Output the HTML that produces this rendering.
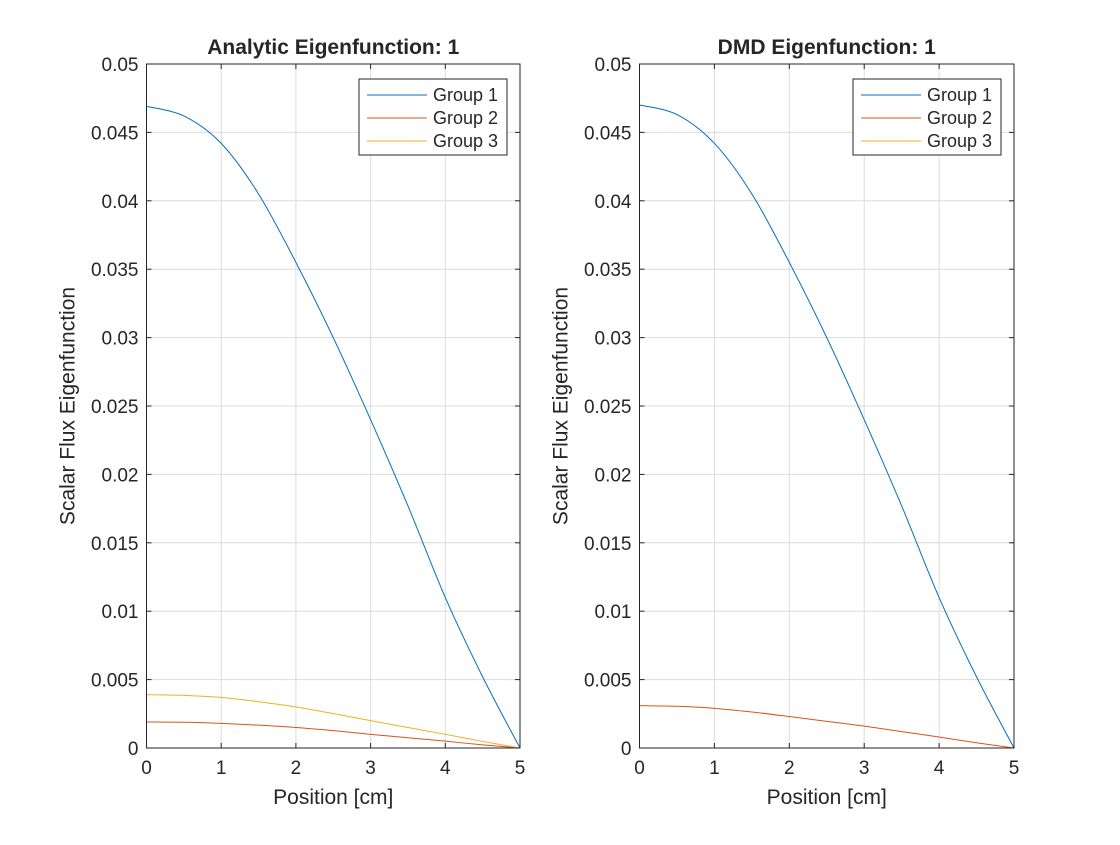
<!DOCTYPE html>
<html><head><meta charset="utf-8"><style>
body{margin:0;background:#fff;}
svg text{font-family:"Liberation Sans",sans-serif;fill:#262626;}
</style></head><body>
<svg id="fig" width="1120" height="840" xmlns="http://www.w3.org/2000/svg"></svg>
<script>
const xs = [0,0.5,1,1.5,2,2.5,3,3.5,4,4.5,5];
const anaG1 = [0.0469,0.0462,0.0442,0.0405,0.0355,0.0300,0.0240,0.0177,0.0110,0.0052,0];
const anaG2 = [0.0019,0.00188,0.0018,0.00167,0.0015,0.00127,0.0010,0.00075,0.0005,0.00023,0];
const anaG3 = [0.0039,0.00385,0.0037,0.00338,0.0030,0.00252,0.0020,0.0015,0.0010,0.00048,0];
const dmdG1 = [0.0470,0.0463,0.0442,0.0405,0.0355,0.0300,0.0240,0.0177,0.0110,0.0052,0];
const dmdG2 = [0.0031,0.00305,0.0029,0.00263,0.0023,0.00195,0.0016,0.0012,0.0008,0.00038,0];
const dmdG3 = [0,0,0,0,0,0,0,0,0,0,0];
const xTicks = [0,1,2,3,4,5];
const yTicks = [0,0.005,0.01,0.015,0.02,0.025,0.03,0.035,0.04,0.045,0.05];
const yTickLabels = ["0","0.005","0.01","0.015","0.02","0.025","0.03","0.035","0.04","0.045","0.05"];
const seriesNames = ["Group 1","Group 2","Group 3"];
const colors = ["#0072BD","#D95319","#EDB120"];

const svg = document.getElementById('fig');
const NS = 'http://www.w3.org/2000/svg';
function mk(tag, attrs, parent){const e=document.createElementNS(NS,tag);for(const k in attrs)e.setAttribute(k,attrs[k]);(parent||svg).appendChild(e);return e;}

function drawAxes(x0,x1,y0,y1,title,series,legX,prefix){
  const g = mk('g',{});
  
  
  const sx = v => x0 + (x1-x0)*v/5;
  const sy = v => y0 - (y0-y1)*v/0.05;
  mk('rect',{x:x0,y:y1,width:x1-x0,height:y0-y1,fill:'#fff'},g);
  xTicks.forEach(t=>{ if(t>0&&t<5) mk('line',{x1:sx(t),x2:sx(t),y1:y1,y2:y0,stroke:'#dcdcdc','stroke-width':1},g); });
  yTicks.forEach(t=>{ if(t>0&&t<0.05) mk('line',{x1:x0,x2:x1,y1:sy(t),y2:sy(t),stroke:'#dcdcdc','stroke-width':1},g); });
  series.forEach((s,i)=>{
    const pts = xs.map((x,j)=>[sx(x),sy(s[j])]);
    let d='M'+pts[0][0]+','+pts[0][1];
    for(let j=0;j<pts.length-1;j++){
      const p0=pts[Math.max(j-1,0)],p1=pts[j],p2=pts[j+1],p3=pts[Math.min(j+2,pts.length-1)];
      const c1=[p1[0]+(p2[0]-p0[0])/6,p1[1]+(p2[1]-p0[1])/6];
      const c2=[p2[0]-(p3[0]-p1[0])/6,p2[1]-(p3[1]-p1[1])/6];
      d+=` C${c1[0]},${c1[1]} ${c2[0]},${c2[1]} ${p2[0]},${p2[1]}`;
    }
    const p = mk('path',{d:d,fill:'none',stroke:colors[i],'stroke-width':1},g);
    
    
  });
  mk('rect',{x:x0,y:y1,width:x1-x0,height:y0-y1,fill:'none',stroke:'#262626','stroke-width':1},g);
  xTicks.forEach(t=>{
    mk('line',{x1:sx(t),x2:sx(t),y1:y0,y2:y0-5,stroke:'#262626'},g);
    mk('line',{x1:sx(t),x2:sx(t),y1:y1,y2:y1+5,stroke:'#262626'},g);
    const tx = mk('text',{x:sx(t),y:y0+26,'font-size':19,'text-anchor':'middle'},g);
    tx.textContent = t;
    
    
  });
  yTicks.forEach((t,i)=>{
    mk('line',{x1:x0,x2:x0+5,y1:sy(t),y2:sy(t),stroke:'#262626'},g);
    mk('line',{x1:x1,x2:x1-5,y1:sy(t),y2:sy(t),stroke:'#262626'},g);
    const tx = mk('text',{x:x0-8,y:sy(t)+7,'font-size':19,'text-anchor':'end'},g);
    tx.textContent = yTickLabels[i];
    
    
  });
  const tt = mk('text',{x:(x0+x1)/2,y:y1-10,'font-size':21,'font-weight':'bold','text-anchor':'middle',fill:'#000'},g);
  tt.textContent = title;
  
  
  const xl = mk('text',{x:(x0+x1)/2,y:y0+56,'font-size':21,'text-anchor':'middle'},g);
  xl.textContent = 'Position [cm]';
  
  
  const yl = mk('text',{x:0,y:0,'font-size':21,'text-anchor':'middle',transform:`translate(${x0-72},${(y0+y1)/2}) rotate(-90)`},g);
  yl.textContent = 'Scalar Flux Eigenfunction';
  
  
  const lg = mk('g',{},g);
  
  
  mk('rect',{x:legX,y:79,width:148,height:76,fill:'#fff',stroke:'#262626','stroke-width':1},lg);
  seriesNames.forEach((n,i)=>{
    const yy = 79+16+i*23;
    mk('line',{x1:legX+8,x2:legX+68,y1:yy,y2:yy,stroke:colors[i],'stroke-width':1},lg);
    const lt = mk('text',{x:legX+74,y:yy+6,'font-size':18},lg);
    lt.textContent = n;
    
    
  });
}
drawAxes(146.5,520,748,64,'Analytic Eigenfunction: 1',[anaG1,anaG2,anaG3],359,'analytic');
drawAxes(639.5,1014,748,64,'DMD Eigenfunction: 1',[dmdG1,dmdG2,dmdG3],853,'dmd');
</script>
</body></html>
